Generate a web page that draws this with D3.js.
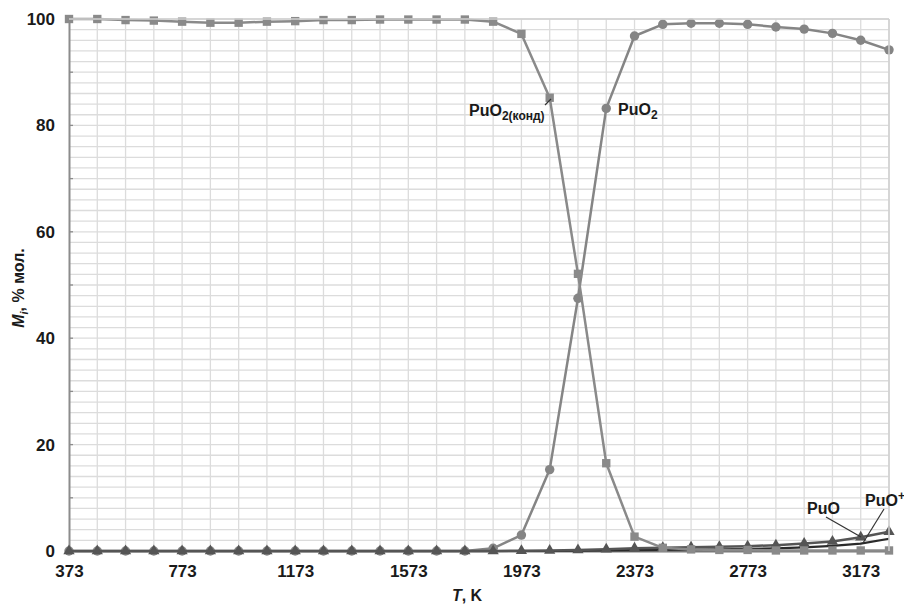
<!DOCTYPE html>
<html>
<head>
<meta charset="utf-8">
<script src="https://cdn.jsdelivr.net/npm/d3@7"></script>
<style>
  body { margin: 0; background: #fff; }
  text { font-family: "Liberation Sans Narrow", "Arial Narrow", "Liberation Sans", Arial, sans-serif; font-weight: bold; fill: #1a1a1a; }
</style>
</head>
<body>
<div id="app"></div>
<script>
// temperatures, K
var tempsK = [373, 473, 573, 673, 773, 873, 973, 1073, 1173, 1273,
              1373, 1473, 1573, 1673, 1773, 1873, 1973, 2073, 2173, 2273,
              2373, 2473, 2573, 2673, 2773, 2873, 2973, 3073, 3173, 3273];
var xTickLabels = [373, 773, 1173, 1573, 1973, 2373, 2773, 3173];
var yTickLabels = [0, 20, 40, 60, 80, 100];

// mole fractions, %
var puo2Cond = [100, 100, 99.8, 99.7, 99.5, 99.3, 99.3, 99.5, 99.6, 99.8,
                99.8, 99.9, 99.9, 99.9, 99.9, 99.5, 97.2, 85.2, 52.1, 16.5,
                2.7, 0.6, 0.3, 0.2, 0.2, 0.1, 0.1, 0.1, 0.1, 0.1];
var puo2Gas = [0, 0, 0, 0, 0, 0, 0, 0, 0, 0,
               0, 0, 0, 0, 0, 0.5, 3.0, 15.3, 47.5, 83.2,
               96.8, 99.0, 99.2, 99.2, 99.0, 98.5, 98.1, 97.3, 96.0, 94.2];
var puo = [0, 0, 0, 0, 0, 0, 0, 0, 0, 0,
           0, 0, 0, 0, 0, 0, 0.05, 0.1, 0.2, 0.35,
           0.5, 0.6, 0.7, 0.8, 0.9, 1.1, 1.4, 1.8, 2.6, 3.6];
var puoPlus = [0, 0, 0, 0, 0, 0, 0, 0, 0, 0,
               0, 0, 0, 0, 0, 0, 0, 0, 0.05, 0.1,
               0.15, 0.2, 0.25, 0.3, 0.4, 0.5, 0.7, 0.95, 1.4, 2.3];

var width = 904, height = 605;
var plotLeft = 69, plotRight = 889, plotTop = 19, plotBottom = 551;

var svg = d3.select('#app').append('svg')
            .attr('width', width)
            .attr('height', height);

var x = d3.scaleLinear().domain([373, 3273]).range([plotLeft, plotRight]);
var y = d3.scaleLinear().domain([0, 100]).range([plotBottom, plotTop]);

// grid
var grid = svg.append('g');
grid.selectAll('line.h')
    .data(d3.range(2, 101, 2))
    .enter().append('line')
    .attr('x1', plotLeft).attr('x2', plotRight)
    .attr('y1', function(d){ return y(d); })
    .attr('y2', function(d){ return y(d); })
    .style('stroke', '#dcdcdc').style('stroke-width', 1.3);
grid.selectAll('line.v')
    .data(tempsK.slice(1))
    .enter().append('line')
    .attr('x1', function(d){ return x(d); })
    .attr('x2', function(d){ return x(d); })
    .attr('y1', plotTop).attr('y2', plotBottom)
    .style('stroke', '#dcdcdc').style('stroke-width', 1.3);

// axes
var yAxis = d3.axisLeft(y).tickValues(yTickLabels).tickSize(0).tickPadding(14);
var gy = svg.append('g').attr('transform', 'translate(' + plotLeft + ',0)').call(yAxis);
gy.select('.domain').style('stroke', '#8c8c8c').style('stroke-width', 2);
gy.selectAll('text').style('font-size', '17px');

// small inner ticks on y at every 10
svg.append('g').selectAll('line')
   .data(d3.range(10, 101, 10))
   .enter().append('line')
   .attr('x1', plotLeft).attr('x2', plotLeft + 4)
   .attr('y1', function(d){ return y(d); })
   .attr('y2', function(d){ return y(d); })
   .style('stroke', '#8c8c8c').style('stroke-width', 1.3);

var xAxis = d3.axisBottom(x).tickValues(xTickLabels).tickSize(0).tickPadding(14)
              .tickFormat(d3.format('d'));
var gx = svg.append('g').attr('transform', 'translate(0,' + plotBottom + ')').call(xAxis);
gx.select('.domain').style('stroke', '#777').style('stroke-width', 2);
gx.selectAll('text').style('font-size', '17px');

// axis titles
var yt = svg.append('text')
   .attr('transform', 'translate(24,' + ((plotTop + plotBottom) / 2 + 3) + ') rotate(-90)')
   .attr('text-anchor', 'middle')
   .style('font-size', '16px');
yt.append('tspan').style('font-style', 'italic').text('M');
yt.append('tspan').style('font-style', 'italic').style('font-size', '11px').attr('dy', 4).text('i');
yt.append('tspan').attr('dy', -4).text(', % мол.');

var xt = svg.append('text')
   .attr('x', 467).attr('y', 601)
   .attr('text-anchor', 'middle')
   .style('font-size', '16px');
xt.append('tspan').style('font-style', 'italic').text('T');
xt.append('tspan').text(', K');

// series
function drawLine(values, color, w) {
  var line = d3.line()
               .x(function(d, i){ return x(tempsK[i]); })
               .y(function(d){ return y(d); });
  svg.append('path').datum(values)
     .attr('d', line)
     .style('fill', 'none')
     .style('stroke', color)
     .style('stroke-width', w)
     .style('stroke-linejoin', 'round');
}
function drawMarkers(values, symbol, size, color) {
  svg.append('g').selectAll('path')
     .data(values)
     .enter().append('path')
     .attr('transform', function(d, i){ return 'translate(' + x(tempsK[i]) + ',' + y(d) + ')'; })
     .attr('d', d3.symbol().type(symbol).size(size))
     .style('fill', color);
}

drawLine(puo2Gas, '#858585', 2.5);
drawMarkers(puo2Gas, d3.symbolCircle, 70, '#858585');

drawLine(puoPlus, '#2b2b2b', 2.2);
drawLine(puo, '#555555', 2.5);
drawMarkers(puo, d3.symbolTriangle, 55, '#555555');

drawLine(puo2Cond, '#8a8a8a', 2.5);
drawMarkers(puo2Cond, d3.symbolSquare, 70, '#8a8a8a');

// frame
svg.append('line').attr('x1', plotLeft).attr('x2', plotRight).attr('y1', plotTop).attr('y2', plotTop)
   .style('stroke', '#d0d0d0').style('stroke-width', 1.5);
svg.append('line').attr('x1', plotRight).attr('x2', plotRight).attr('y1', plotTop).attr('y2', plotBottom)
   .style('stroke', '#d0d0d0').style('stroke-width', 1.5);

// annotations
function leader(x1, y1, x2, y2) {
  svg.append('line').attr('x1', x1).attr('y1', y1).attr('x2', x2).attr('y2', y2)
     .style('stroke', '#333').style('stroke-width', 1.2);
}
var t1 = svg.append('text').attr('x', 469).attr('y', 116).style('font-size', '16px');
t1.append('tspan').text('PuO');
t1.append('tspan').attr('dy', 4).style('font-size', '12px').text('2(конд)');
leader(545, 105, 551, 99);

var t2 = svg.append('text').attr('x', 618).attr('y', 115).style('font-size', '16px');
t2.append('tspan').text('PuO');
t2.append('tspan').attr('dy', 4).style('font-size', '12px').text('2');

svg.append('text').attr('x', 807).attr('y', 514).style('font-size', '16px').text('PuO');
leader(826, 517, 861, 537);

var t3 = svg.append('text').attr('x', 865).attr('y', 506).style('font-size', '16px');
t3.append('tspan').text('PuO');
t3.append('tspan').attr('dy', -6).style('font-size', '12px').text('+');
leader(884, 509, 863, 543);
</script>
</body>
</html>
